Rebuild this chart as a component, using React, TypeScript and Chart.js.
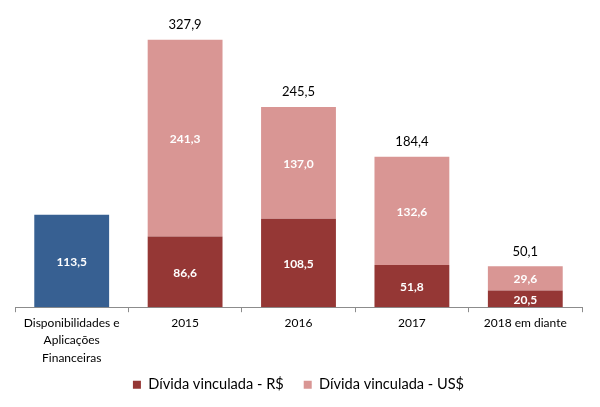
import React, { useEffect, useRef } from "react";
import { Chart, registerables } from "chart.js";

Chart.register(...registerables);

const categories: (string | string[])[] = [
  ["Disponibilidades e", "Aplicações", "Financeiras"],
  "2015",
  "2016",
  "2017",
  "2018 em diante",
];
const caixa: (number | null)[] = [113.5, null, null, null, null];
const dividaRS: (number | null)[] = [null, 86.6, 108.5, 51.8, 20.5];
const dividaUS: (number | null)[] = [null, 241.3, 137.0, 132.6, 29.6];
const totals: (number | null)[] = [null, 327.9, 245.5, 184.4, 50.1];

const fmt = (v: number) => v.toFixed(1).replace(".", ",");
const FONT = "Lato, 'Open Sans', sans-serif";

const labelPlugin = {
  id: "valueLabels",
  afterDatasetsDraw(chart: any) {
    const ctx = chart.ctx;
    ctx.save();
    ctx.textAlign = "center";
    ctx.textBaseline = "middle";
    chart.data.datasets.forEach((ds: any, di: number) => {
      const meta = chart.getDatasetMeta(di);
      meta.data.forEach((bar: any, i: number) => {
        const v = ds.data[i];
        if (v == null) return;
        const p = bar.getProps(["x", "y", "base"], true);
        ctx.fillStyle = "#ffffff";
        ctx.font = `bold 12px ${FONT}`;
        ctx.fillText(fmt(v), p.x, (p.y + p.base) / 2 + 1);
      });
    });
    const meta = chart.getDatasetMeta(2);
    meta.data.forEach((bar: any, i: number) => {
      const t = totals[i];
      if (t == null) return;
      const p = bar.getProps(["x", "y"], true);
      ctx.fillStyle = "#000000";
      ctx.font = `13px ${FONT}`;
      ctx.fillText(fmt(t), p.x, p.y - 15);
    });
    ctx.restore();
  },
};

export default function App() {
  const ref = useRef<HTMLCanvasElement | null>(null);
  useEffect(() => {
    if (!ref.current) return;
    const chart = new Chart(ref.current, {
      type: "bar",
      data: {
        labels: categories,
        datasets: [
          { label: "Disponibilidades", data: caixa, backgroundColor: "#376092" },
          { label: "Dívida vinculada - R$", data: dividaRS, backgroundColor: "#953735" },
          { label: "Dívida vinculada - US$", data: dividaUS, backgroundColor: "#D99694" },
        ],
      },
      options: {
        animation: false,
        responsive: false,
        layout: { padding: { left: 15, right: 18, top: 30, bottom: 5 } },
        datasets: { bar: { categoryPercentage: 1, barPercentage: 0.66 } },
        scales: {
          x: {
            stacked: true,
            grid: { offset: true, drawOnChartArea: false, tickLength: 5, color: "#8c8c8c" },
            border: { display: true, color: "#8c8c8c" },
            ticks: { color: "#000", font: { family: FONT, size: 12, lineHeight: 1.45 }, padding: 2, maxRotation: 0, autoSkip: false },
          },
          y: {
            stacked: true,
            display: false,
            min: 0,
            max: 340,
          },
        },
        plugins: {
          legend: {
            position: "bottom",
            labels: {
              filter: (item: any) => item.datasetIndex !== 0,
              generateLabels: (chart: any) => {
                const items = Chart.defaults.plugins.legend.labels.generateLabels(chart);
                return items.map((it: any) =>
                  it.datasetIndex === 1 ? { ...it, text: it.text + "\u2003" } : it
                );
              },
              boxWidth: 8,
              boxHeight: 8,
              padding: 9,
              color: "#000",
              font: { family: FONT, size: 14.6 },
            },
          },
          tooltip: { enabled: false },
        },
      },
      plugins: [labelPlugin],
    });
    return () => chart.destroy();
  }, []);
  return (
    <div style={{ position: "fixed", left: 0, top: 0, width: 600, height: 407, background: "#fff" }}>
      <canvas ref={ref} width={600} height={407} style={{ width: 600, height: 407 }} />
    </div>
  );
}
